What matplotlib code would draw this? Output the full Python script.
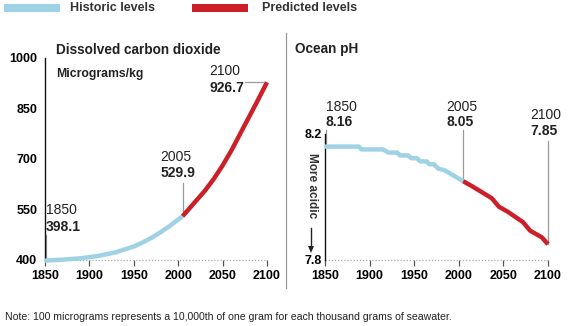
import matplotlib
matplotlib.use("Agg")
import matplotlib.pyplot as plt

plt.rcParams.update({
    "font.family": ["Liberation Sans", "DejaVu Sans"],
    "font.size": 8,
    "text.color": "#222222",
})

BLUE = "#9fd2e4"
RED = "#cc1f27"
GREY = "#999999"

W, H = 576, 326

# Dissolved CO2 (micrograms/kg)
co2_hist_years = [1850, 1870, 1890, 1910, 1930, 1950, 1960, 1970, 1980, 1990, 2000, 2005]
co2_hist_vals = [398.1, 401, 405, 412, 423, 440, 452, 466, 482, 500, 520, 529.9]
co2_pred_years = [2005, 2020, 2030, 2040, 2050, 2060, 2070, 2080, 2090, 2100]
co2_pred_vals = [529.9, 575, 605, 640, 680, 725, 775, 825, 875, 926.7]

# Ocean pH
ph_hist_years = [1850, 1888, 1891, 1915, 1921, 1931, 1934, 1943, 1947, 1953,
                 1957, 1964, 1967, 1972, 1977, 1984, 2005]
ph_hist_vals = [8.16, 8.16, 8.151, 8.151, 8.141, 8.141, 8.132, 8.132, 8.123, 8.123,
                8.113, 8.113, 8.104, 8.104, 8.090, 8.085, 8.05]
ph_pred_years = [2005, 2015, 2037, 2045, 2055, 2072, 2080, 2093, 2100]
ph_pred_vals = [8.05, 8.034, 7.996, 7.969, 7.953, 7.920, 7.893, 7.872, 7.85]

x_ticks = [1850, 1900, 1950, 2000, 2050, 2100]
co2_ticks = [400, 550, 700, 850, 1000]
ph_ticks = [7.8, 8.2]

co2_marks = [(1850, 398.1), (2005, 529.9), (2100, 926.7)]
ph_marks = [(1850, 8.16), (2005, 8.05), (2100, 7.85)]


def fx(x):
    return x / W


def fy(y):
    return 1 - y / H


fig = plt.figure(figsize=(W / 100, H / 100), dpi=100)

# ── axes placed by pixel box ─────────────────────────────────────────────────
ax1 = fig.add_axes([fx(45), fy(260), 222 / W, 202.5 / H])
ax2 = fig.add_axes([fx(325), fy(260), 223 / W, 126 / H])


def style(ax, yticks, ylim, pad, fmt):
    ax.set_xlim(1850, 2100)
    ax.set_ylim(*ylim)
    for s in ["top", "right", "bottom"]:
        ax.spines[s].set_visible(False)
    ax.spines["left"].set_linewidth(1.0)
    ax.spines["left"].set_color("#111111")
    ax.set_xticks(x_ticks)
    ax.set_xticklabels([str(t) for t in x_ticks], fontweight="bold", fontsize=9)
    ax.set_yticks(yticks)
    ax.set_yticklabels([fmt.format(t) for t in yticks], fontweight="bold", fontsize=9)
    ax.tick_params(axis="y", length=0, pad=pad)
    ax.tick_params(axis="x", length=4, width=0.9, color="#555555", pad=3)
    ax.axhline(ylim[0], color="#aaaaaa", linestyle=(0, (1, 1.5)), linewidth=0.9,
               clip_on=False)
    ax.patch.set_alpha(0)


style(ax1, co2_ticks, (400, 1000), 5.5, "{:d}")
style(ax2, ph_ticks, (7.8, 8.2), 2, "{:.1f}")

# ── CO2 lines ────────────────────────────────────────────────────────────────
ax1.plot(co2_hist_years, co2_hist_vals, color=BLUE, lw=3.2, solid_capstyle="butt",
         clip_on=False, zorder=3)
ax1.plot(co2_pred_years, co2_pred_vals, color=RED, lw=3.2, solid_capstyle="butt",
         clip_on=False, zorder=3)

lead = dict(color=GREY, lw=0.9, clip_on=False, zorder=2)
(x0, v0), (x1, v1), (x2, v2) = co2_marks
ax1.plot([x0 + 1, x0 + 1], [v0, 474], **lead)
ax1.text(x0 + 1, 548, f"{x0}", ha="left", va="center", fontsize=10)
ax1.text(x0 + 1, 498, f"{v0:.1f}", ha="left", va="center", fontsize=10, fontweight="bold")
ax1.plot([x1, x1], [v1, 629], **lead)
ax1.text(1980, 706, f"{x1}", ha="left", va="center", fontsize=10)
ax1.text(1980, 658, f"{v1:.1f}", ha="left", va="center", fontsize=10, fontweight="bold")
ax1.plot([2075, 2096], [v2 + 2, v2 + 2], **lead)
ax1.text(2035, 961, f"{x2}", ha="left", va="center", fontsize=10)
ax1.text(2035, 911, f"{v2:.1f}", ha="left", va="center", fontsize=10, fontweight="bold")

# ── pH lines ─────────────────────────────────────────────────────────────────
ax2.plot(ph_hist_years, ph_hist_vals, color=BLUE, lw=3.2, solid_capstyle="butt",
         clip_on=False, zorder=3)
ax2.plot(ph_pred_years, ph_pred_vals, color=RED, lw=3.2, solid_capstyle="butt",
         clip_on=False, zorder=3)

(x0, v0), (x1, v1), (x2, v2) = ph_marks
ax2.plot([x0 + 1, x0 + 1], [v0, 8.213], **lead)
ax2.text(x0 + 1, 8.286, f"{x0}", ha="left", va="center", fontsize=10)
ax2.text(x0 + 1, 8.238, f"{v0:.2f}", ha="left", va="center", fontsize=10, fontweight="bold")
ax2.plot([x1, x1], [v1, 8.213], **lead)
ax2.text(1986, 8.286, f"{x1}", ha="left", va="center", fontsize=10)
ax2.text(1986, 8.238, f"{v1:.2f}", ha="left", va="center", fontsize=10, fontweight="bold")
ax2.plot([x2, x2], [v2, 8.178], **lead)
ax2.text(2080, 8.26, f"{x2}", ha="left", va="center", fontsize=10)
ax2.text(2080, 8.21, f"{v2:.2f}", ha="left", va="center", fontsize=10, fontweight="bold")

# "More acidic" note with a down arrow: shaft plus triangle head
fig.text(fx(312), fy(186), "More acidic", rotation=270, ha="center", va="center",
         fontsize=8.5, fontweight="bold", color="#333333")
fig.add_artist(plt.Line2D([fx(311), fx(311)], [fy(228), fy(248)],
                          transform=fig.transFigure, color="#222222", lw=1.0))
fig.add_artist(plt.Polygon([(fx(308), fy(246)), (fx(314), fy(246)), (fx(311), fy(253))],
                           closed=True, transform=fig.transFigure,
                           color="#222222", lw=0))

# ── titles ───────────────────────────────────────────────────────────────────
fig.text(fx(56), fy(50), "Dissolved carbon dioxide", ha="left", va="center",
         fontsize=9.8, fontweight="bold")
fig.text(fx(56), fy(74), "Micrograms/kg", ha="left", va="center",
         fontsize=8.8, fontweight="bold")
fig.text(fx(295), fy(49), "Ocean pH", ha="left", va="center",
         fontsize=9.8, fontweight="bold")

# separator between panels
fig.add_artist(plt.Line2D([fx(286), fx(286)], [fy(33), fy(288)],
                          transform=fig.transFigure, color="#999999", lw=0.9))

# ── legend ───────────────────────────────────────────────────────────────────
fig.add_artist(plt.Rectangle((fx(4), fy(12)), 56 / W, 8 / H,
                             transform=fig.transFigure, color=BLUE, lw=0))
fig.text(fx(70), fy(8), "Historic levels", ha="left", va="center",
         fontsize=9, fontweight="bold", color="#333333")
fig.add_artist(plt.Rectangle((fx(192), fy(12)), 56 / W, 8 / H,
                             transform=fig.transFigure, color=RED, lw=0))
fig.text(fx(262), fy(8), "Predicted levels", ha="left", va="center",
         fontsize=9, fontweight="bold", color="#333333")

fig.text(fx(5), fy(317), "Note: 100 micrograms represents a 10,000th of one gram "
         "for each thousand grams of seawater.", ha="left", va="center",
         fontsize=7.6, color="#222222")

fig.savefig("out.png", dpi=100)
